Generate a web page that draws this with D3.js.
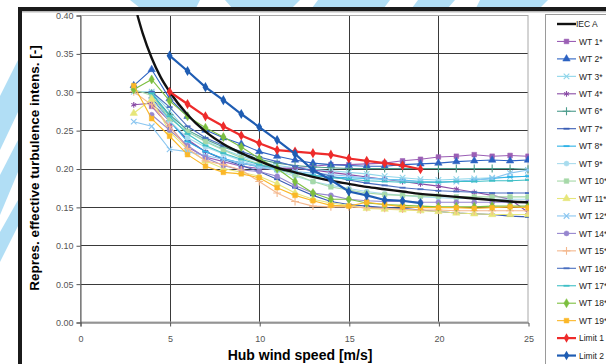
<!DOCTYPE html>
<html lang="en">
<head>
<meta charset="UTF-8">
<title>Representative turbulence intensity</title>
<script src="https://d3js.org/d3.v7.min.js"></script>
<style>
    body { margin: 0; background: #fff; }
    svg { display: block; font-family: "Liberation Sans", Arial, sans-serif; }
</style>
</head>
<body>
<svg id="chart" width="606" height="364"></svg>
<script>
    // wind speeds (m/s) of the WT series
    const speeds = [3, 4, 5, 6, 7, 8, 9, 10, 11, 12, 13, 14, 15, 16, 17, 18, 19, 20, 21, 22, 23, 24, 25];

    const wt1 = [null, .281, .255, .228, .215, .209, .203, .200, .199, .201, .203, .205, .205, .206, .207, .210, .212, .215, .216, .218, .216, .217, .216];
    const wt2 = [.308, .329, .291, .268, .250, .240, .232, .222, .216, .211, .207, .205, .204, .203, .203, .205, .206, .207, .209, .210, .211, .210, .211];
    const wt3 = [.300, .300, .275, .248, .236, .225, .216, .209, .204, .201, .199, .197, .195, .193, .190, .188, .186, .185, .186, .187, .188, .189, .190];
    const wt4 = [.283, .285, .262, .238, .222, .212, .207, .203, .201, .200, .198, .195, .192, .189, .186, .183, .180, .177, .173, .169, .165, .160, .143];
    const wt6 = [null, .298, .270, .250, .238, .228, .220, .212, .207, .204, .202, .201, .200, .200, .200, .200, .200, .200, .200, .200, .200, .200, .199];
    const wt7 = [null, .292, .262, .236, .222, .212, .204, .196, .186, .175, .165, .157, .153, .151, .149, .148, .146, .144, .142, .141, .140, .138, .137];
    const wt8 = [null, .300, .262, .235, .222, .213, .207, .202, .198, .194, .191, .189, .188, .187, .186, .185, .183, .182, .183, .185, .187, .189, .190];
    const wt9 = [null, .290, .262, .240, .228, .219, .210, .203, .197, .190, .183, .178, .174, .170, .167, .165, .163, .162, .161, .161, .160, .160, .160];
    const wt10 = [.303, .295, .265, .248, .235, .224, .214, .206, .200, .192, .183, .176, .172, .168, .166, .165, .164, .164, .163, .163, .163, .163, .163];
    const wt11 = [.272, .290, .248, .225, .210, .200, .195, .190, .180, .168, .160, .155, .152, .148, .147, .146, .145, .144, .142, .141, .140, .140, .140];
    const wt12 = [.261, .255, .225, .222, .217, .212, .207, .203, .199, .196, .194, .192, .190, .188, .186, .184, .183, .182, .183, .185, .187, .194, .198];
    const wt14 = [null, .270, .250, .230, .214, .204, .198, .196, .190, .178, .168, .165, .160, .158, .157, .157, .156, .156, .156, .156, .156, .156, .156];
    const wt15 = [.300, .283, .255, .226, .210, .205, .198, .183, .168, .157, .151, .150, .150, .149, .148, .147, .146, .146, .145, .145, .145, .145, .145];
    const wt16 = [null, .300, .280, .255, .240, .230, .222, .215, .209, .203, .196, .190, .185, .181, .178, .175, .173, .171, .170, .169, .168, .168, .168];
    const wt17 = [null, .298, .268, .245, .230, .220, .212, .205, .200, .195, .191, .188, .186, .184, .183, .182, .182, .182, .183, .183, .184, .184, .185];
    const wt18 = [.303, .316, .288, .268, .253, .241, .228, .213, .200, .183, .168, .160, .160, .155, .153, .152, .151, .150, .150, .150, .151, .151, .151];
    const wt19 = [.308, .265, .242, .218, .203, .195, .193, .188, .175, .165, .158, .152, .151, .156, .153, .150, .149, .149, .149, .148, .149, .150, .149];

    // IEC A curve
    const iecSpeeds = [3.2, 3.5, 4, 4.5, 5, 6, 7, 8, 9, 10, 11, 12, 13, 14, 15, 16, 17, 18, 19, 20, 21, 22, 23, 24, 25];
    const iecA = [.400, .376, .344, .319, .300, .270, .248, .232, .220, .210, .201, .195, .189, .184, .180, .176, .173, .170, .167, .165, .163, .161, .159, .157, .156];

    const limitSpeeds = [5, 6, 7, 8, 9, 10, 11, 12, 13, 14, 15, 16, 17, 18, 19];
    const limit1 = [.300, .284, .268, .255, .243, .233, .224, .222, .220, .218, .213, .210, .207, .204, .199];
    const limit2 = [.347, .327, .306, .289, .271, .254, .237, .219, .198, .185, .170, .165, .159, .158, .155];

    const xTicks = [0, 5, 10, 15, 20, 25];
    const yTicks = [0, 0.05, 0.10, 0.15, 0.20, 0.25, 0.30, 0.35, 0.40];

    const wtSeries = [
        { name: "WT 1*", values: wt1, color: "#9b5fb5", marker: "square" },
        { name: "WT 2*", values: wt2, color: "#2c62c2", marker: "triangle" },
        { name: "WT 3*", values: wt3, color: "#8fd6ea", marker: "times" },
        { name: "WT 4*", values: wt4, color: "#8a4ca6", marker: "asterisk" },
        { name: "WT 6*", values: wt6, color: "#4c9c8c", marker: "plus" },
        { name: "WT 7*", values: wt7, color: "#3a5db4", marker: "dash" },
        { name: "WT 8*", values: wt8, color: "#2fb2e6", marker: "dash" },
        { name: "WT 9*", values: wt9, color: "#a9dcee", marker: "circle" },
        { name: "WT 10*", values: wt10, color: "#a6d9a8", marker: "square" },
        { name: "WT 11*", values: wt11, color: "#e6e67a", marker: "triangle" },
        { name: "WT 12*", values: wt12, color: "#8ac6f0", marker: "times" },
        { name: "WT 14*", values: wt14, color: "#9686cf", marker: "circle" },
        { name: "WT 15*", values: wt15, color: "#f4b88e", marker: "plus" },
        { name: "WT 16*", values: wt16, color: "#4a6fc0", marker: "dash" },
        { name: "WT 17*", values: wt17, color: "#3fbfc6", marker: "dash" },
        { name: "WT 18*", values: wt18, color: "#7cbf3f", marker: "diamond" },
        { name: "WT 19*", values: wt19, color: "#fbb727", marker: "square" }
    ];

    const svg = d3.select("#chart");

    // light blue brush strokes of the page background
    const deco = svg.append("g").attr("fill", "#b1def5");
    [
        "M130,0 L200,0 L196,8 L140,8 Z",
        "M225,0 L300,0 L292,8 L232,8 Z",
        "M318,0 L390,0 L384,8 L312,8 Z",
        "M418,0 L455,0 L448,8 L412,8 Z",
        "M480,0 L548,0 L540,8 L476,8 Z",
        "M0,96 L18,60 L18,112 L0,150 Z",
        "M0,175 L18,140 L18,172 L0,215 Z",
        "M0,232 L18,200 L18,226 L0,262 Z"
    ].forEach(d => deco.append("path").attr("d", d));

    svg.append("rect").attr("x", 20).attr("y", 9).attr("width", 586).attr("height", 355).attr("fill", "#fff");
    svg.append("rect").attr("x", 18).attr("y", 7).attr("width", 588).attr("height", 4).attr("fill", "#1b1b1b");
    svg.append("rect").attr("x", 18).attr("y", 7).attr("width", 4).attr("height", 357).attr("fill", "#1b1b1b");
    svg.append("rect").attr("x", 22).attr("y", 11).attr("width", 584).attr("height", 1.5).attr("fill", "#bbb");

    const x = d3.scaleLinear().domain([0, 25]).range([80, 528]);
    const y = d3.scaleLinear().domain([0, 0.4]).range([322, 15]);

    // grid
    svg.append("g").selectAll("line").data(yTicks.slice(1, -1)).join("line")
        .attr("x1", 80).attr("x2", 528).attr("y1", d => Math.round(y(d)) + 0.5).attr("y2", d => Math.round(y(d)) + 0.5)
        .attr("stroke", "#3a3a3a").attr("stroke-width", 1);
    svg.append("g").selectAll("line").data(xTicks.slice(1, -1)).join("line")
        .attr("y1", 15).attr("y2", 322).attr("x1", d => Math.round(x(d)) + 0.5).attr("x2", d => Math.round(x(d)) + 0.5)
        .attr("stroke", "#3a3a3a").attr("stroke-width", 1);
    svg.append("rect").attr("x", 80.5).attr("y", 15.5).attr("width", 447.5).attr("height", 306.5)
        .attr("fill", "none").attr("stroke", "#a8a8a8");

    const yAxis = svg.append("g").attr("transform", "translate(80.5,0.5)")
        .call(d3.axisLeft(y).tickValues(yTicks).tickFormat(d3.format(".2f")).tickSize(4));
    const xAxis = svg.append("g").attr("transform", "translate(0.5,322.5)")
        .call(d3.axisBottom(x).tickValues(xTicks).tickSize(4).tickPadding(9));
    [yAxis, xAxis].forEach(a => {
        a.select(".domain").attr("stroke", "#555");
        a.selectAll(".tick line").attr("stroke", "#555");
        a.selectAll("text").attr("fill", "#555").style("font-size", "9px").style("font-family", "'Liberation Sans', Arial, sans-serif");
    });
    xAxis.selectAll(".tick:last-child line").remove();

    svg.append("text").attr("transform", "translate(39,168) rotate(-90)")
        .attr("text-anchor", "middle").style("font-weight", "bold").style("font-size", "13.5px")
        .text("Repres. effective turbulence intens. [-]");
    svg.append("text").attr("x", 300).attr("y", 360)
        .attr("text-anchor", "middle").style("font-weight", "bold").style("font-size", "14px")
        .text("Hub wind speed [m/s]");

    const symbolFor = {
        square: { type: d3.symbolSquare, size: 22, fill: true },
        triangle: { type: d3.symbolTriangle, size: 24, fill: true },
        circle: { type: d3.symbolCircle, size: 20, fill: true },
        diamond: { type: d3.symbolDiamond, size: 24, fill: true },
        times: { type: d3.symbolTimes || d3.symbolCross, size: 22, fill: false },
        asterisk: { type: d3.symbolAsterisk || d3.symbolCross, size: 22, fill: false },
        plus: { type: d3.symbolPlus || d3.symbolCross, size: 22, fill: false }
    };

    const drawMarker = (g, kind, color, cx, cy, scale = 1) => {
        if (kind === "dash") {
            g.append("line").attr("x1", cx - 3).attr("x2", cx + 3).attr("y1", cy).attr("y2", cy)
                .attr("stroke", color).attr("stroke-width", 1.8);
            return;
        }
        const s = symbolFor[kind];
        g.append("path").attr("d", d3.symbol(s.type, s.size * scale)())
            .attr("transform", `translate(${cx},${cy})`)
            .attr("fill", s.fill ? color : "none")
            .attr("stroke", color).attr("stroke-width", s.fill ? 0.5 : 1.1);
    };

    svg.append("clipPath").attr("id", "plotClip")
        .append("rect").attr("x", 80).attr("y", 15).attr("width", 449).attr("height", 308);
    const plot = svg.append("g").attr("clip-path", "url(#plotClip)");

    const line = d3.line().defined(d => d[1] !== null).x(d => x(d[0])).y(d => y(d[1]));

    wtSeries.forEach(s => {
        const pts = speeds.map((v, i) => [v, s.values[i]]);
        plot.append("path").datum(pts).attr("d", line)
            .attr("fill", "none").attr("stroke", s.color).attr("stroke-width", 1.1);
        const mg = plot.append("g");
        pts.filter(p => p[1] !== null).forEach(p => drawMarker(mg, s.marker, s.color, x(p[0]), y(p[1])));
    });

    plot.append("path").datum(iecSpeeds.map((v, i) => [v, iecA[i]]))
        .attr("d", d3.line().x(d => x(d[0])).y(d => y(d[1])).curve(d3.curveMonotoneX))
        .attr("fill", "none").attr("stroke", "#111").attr("stroke-width", 2.4);

    [[limit1, "#ee2b2b"], [limit2, "#1f5db3"]].forEach(([vals, color]) => {
        const pts = limitSpeeds.map((v, i) => [v, vals[i]]);
        plot.append("path").datum(pts).attr("d", line)
            .attr("fill", "none").attr("stroke", color).attr("stroke-width", 2.2);
        plot.append("g").selectAll("path").data(pts).join("path")
            .attr("d", d3.symbol(d3.symbolDiamond, 30)())
            .attr("transform", d => `translate(${x(d[0])},${y(d[1])})`)
            .attr("fill", color);
    });

    // legend
    const legendItems = [{ name: "IEC A", color: "#111", marker: null, width: 2.4 }]
        .concat(wtSeries.map(s => ({ name: s.name, color: s.color, marker: s.marker, width: 1.1 })))
        .concat([{ name: "Limit 1", color: "#ee2b2b", marker: "limit", width: 2.2 },
                 { name: "Limit 2", color: "#1f5db3", marker: "limit", width: 2.2 }]);

    svg.append("rect").attr("x", 545.5).attr("y", 14.5).attr("width", 70).attr("height", 360)
        .attr("fill", "#fff").attr("stroke", "#9a9a9a");

    const legend = svg.append("g");
    legendItems.forEach((d, i) => {
        const ly = 24 + i * 17.45;
        const g = legend.append("g");
        g.append("line").attr("x1", 557).attr("x2", 576).attr("y1", ly).attr("y2", ly)
            .attr("stroke", d.color).attr("stroke-width", d.width);
        if (d.marker === "limit") {
            g.append("path").attr("d", d3.symbol(d3.symbolDiamond, 26)())
                .attr("transform", `translate(566.5,${ly})`).attr("fill", d.color);
        } else if (d.marker) {
            drawMarker(g, d.marker, d.color, 566.5, ly);
        }
        g.append("text").attr("x", d.marker ? 579 : 576).attr("y", ly + 3.2)
            .style("font-size", "8.5px").attr("fill", "#222").text(d.name);
    });
</script>
</body>
</html>
